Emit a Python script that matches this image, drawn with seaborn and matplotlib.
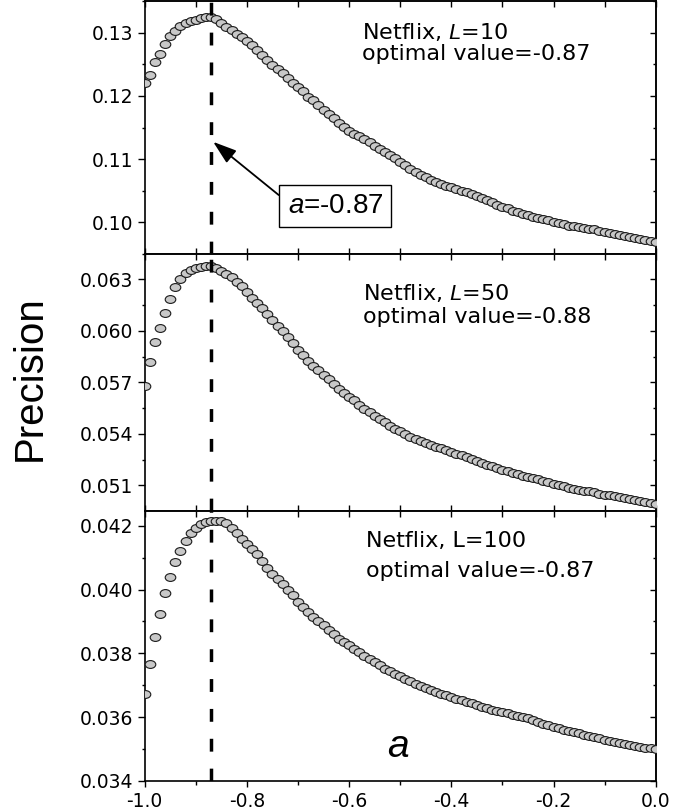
import numpy as np
import pandas as pd
import matplotlib
matplotlib.use('Agg')
import matplotlib.pyplot as plt
import seaborn as sns
from matplotlib.path import Path
from matplotlib.ticker import MultipleLocator, FormatStrFormatter, FixedLocator

# ---------------- data ----------------
a_values = np.round(np.arange(-100, 1) / 100.0, 2)

p_L10 = [0.1220, 0.1233, 0.1253, 0.1266, 0.1282, 0.1295, 0.1302, 0.1310, 0.1316, 0.1318,
         0.1320, 0.1323, 0.1325, 0.1325, 0.1322, 0.1315, 0.1309, 0.1304, 0.1298, 0.1293,
         0.1287, 0.1280, 0.1273, 0.1265, 0.1257, 0.1249, 0.1243, 0.1236, 0.1228, 0.1221,
         0.1214, 0.1207, 0.1199, 0.1193, 0.1186, 0.1178, 0.1171, 0.1165, 0.1157, 0.1151,
         0.1145, 0.1140, 0.1136, 0.1132, 0.1127, 0.1121, 0.1116, 0.1111, 0.1106, 0.1101,
         0.1096, 0.1090, 0.1085, 0.1080, 0.1075, 0.1071, 0.1067, 0.1064, 0.1061, 0.1058,
         0.1056, 0.1053, 0.1050, 0.1048, 0.1045, 0.1042, 0.1039, 0.1035, 0.1032, 0.1028,
         0.1025, 0.1022, 0.1018, 0.1016, 0.1013, 0.1011, 0.1009, 0.1007, 0.1005, 0.1003,
         0.1001, 0.0999, 0.0997, 0.0995, 0.0994, 0.0992, 0.0991, 0.0990, 0.0989, 0.0987,
         0.0985, 0.0983, 0.0981, 0.0980, 0.0978, 0.0977, 0.0976, 0.0974, 0.0972, 0.0971,
         0.0969]

p_L50 = [0.05680, 0.05817, 0.05933, 0.06018, 0.06105, 0.06185, 0.06257, 0.06300, 0.06335, 0.06354,
         0.06364, 0.06373, 0.06379, 0.06377, 0.06364, 0.06348, 0.06331, 0.06312, 0.06283, 0.06261,
         0.06228, 0.06193, 0.06164, 0.06135, 0.06100, 0.06064, 0.06030, 0.05998, 0.05964, 0.05930,
         0.05890, 0.05858, 0.05825, 0.05795, 0.05770, 0.05745, 0.05718, 0.05690, 0.05660, 0.05638,
         0.05616, 0.05594, 0.05570, 0.05547, 0.05525, 0.05505, 0.05485, 0.05466, 0.05447, 0.05430,
         0.05414, 0.05398, 0.05383, 0.05370, 0.05357, 0.05346, 0.05335, 0.05325, 0.05316, 0.05305,
         0.05294, 0.05284, 0.05274, 0.05262, 0.05251, 0.05241, 0.05231, 0.05221, 0.05211, 0.05201,
         0.05191, 0.05182, 0.05173, 0.05165, 0.05157, 0.05150, 0.05142, 0.05135, 0.05127, 0.05118,
         0.05110, 0.05102, 0.05094, 0.05087, 0.05081, 0.05075, 0.05069, 0.05064, 0.05058, 0.05052,
         0.05046, 0.05041, 0.05035, 0.05029, 0.05024, 0.05019, 0.05014, 0.05008, 0.05002, 0.04997,
         0.04990]

p_L100 = [0.03672, 0.03766, 0.03850, 0.03922, 0.03988, 0.04040, 0.04085, 0.04122, 0.04152, 0.04176,
          0.04192, 0.04204, 0.04213, 0.04216, 0.04216, 0.04215, 0.04207, 0.04194, 0.04176, 0.04158,
          0.04142, 0.04127, 0.04111, 0.04088, 0.04068, 0.04050, 0.04032, 0.04016, 0.04000, 0.03982,
          0.03962, 0.03945, 0.03929, 0.03915, 0.03900, 0.03888, 0.03874, 0.03860, 0.03846, 0.03836,
          0.03825, 0.03814, 0.03803, 0.03792, 0.03782, 0.03772, 0.03762, 0.03752, 0.03744, 0.03736,
          0.03728, 0.03720, 0.03712, 0.03705, 0.03698, 0.03691, 0.03684, 0.03678, 0.03673, 0.03668,
          0.03662, 0.03658, 0.03653, 0.03648, 0.03643, 0.03638, 0.03633, 0.03628, 0.03624, 0.03620,
          0.03616, 0.03612, 0.03608, 0.03604, 0.03600, 0.03596, 0.03591, 0.03586, 0.03580, 0.03575,
          0.03570, 0.03565, 0.03561, 0.03557, 0.03553, 0.03549, 0.03545, 0.03541, 0.03537, 0.03534,
          0.03530, 0.03526, 0.03522, 0.03519, 0.03516, 0.03513, 0.03510, 0.03507, 0.03504, 0.03502,
          0.03499]

optimal_a = -0.87
panel_titles = ["Netflix, $L$=10", "Netflix, $L$=50", "Netflix, L=100"]
panel_optimal = ["optimal value=-0.87", "optimal value=-0.88", "optimal value=-0.87"]
x_ticks = [-1.0, -0.8, -0.6, -0.4, -0.2, 0.0]

# ---------------- style ----------------
sns.set_theme(style='ticks')
plt.rcParams['font.family'] = ['DejaVu Sans']
plt.rcParams['text.color'] = 'black'
plt.rcParams['axes.labelcolor'] = 'black'
plt.rcParams['axes.unicode_minus'] = False
plt.rcParams['mathtext.fontset'] = 'custom'
plt.rcParams['mathtext.it'] = 'Liberation Sans:italic'
plt.rcParams['mathtext.rm'] = 'Liberation Sans'

# slightly flattened circle marker (as in the reference)
_circ = Path.unit_circle()
ellipse_marker = Path(_circ.vertices * np.array([1.0, 0.74]), _circ.codes)

fig = plt.figure(figsize=(6.75, 8.1), dpi=100)
W, H = 675.0, 810.0
left = 144.7 / W
width = 511.0 / W
ax1 = fig.add_axes([left, 1 - 254.0 / H, width, 253.0 / H])
ax2 = fig.add_axes([left, 1 - 510.7 / H, width, 256.7 / H])
ax3 = fig.add_axes([left, 1 - 781.0 / H, width, 270.3 / H])

series = [p_L10, p_L50, p_L100]
axes = [ax1, ax2, ax3]
ylims = [(0.0950, 0.1350), (0.04952, 0.06447), (0.0340, 0.04247)]
ymaj = [[0.10, 0.11, 0.12, 0.13], [0.051, 0.054, 0.057, 0.060, 0.063],
        [0.034, 0.036, 0.038, 0.040, 0.042]]
ymin_step = [0.005, 0.0015, 0.001]
yfmt = ['%.2f', '%.3f', '%.3f']

for i, (ax, vals) in enumerate(zip(axes, series)):
    df = pd.DataFrame({'a': a_values, 'precision': vals})
    sns.scatterplot(data=df, x='a', y='precision', ax=ax, s=58, marker=ellipse_marker,
                    color='#c8c8c8', edgecolor='#1a1a1a', linewidth=0.8, zorder=3,
                    legend=False)
    ax.axvline(optimal_a, color='black', lw=2.5, dashes=(3.7, 4.9), zorder=4)
    ax.set_xlim(-1.0, 0.0)
    ax.set_ylim(*ylims[i])
    ax.set_xlabel('')
    ax.set_ylabel('')
    ax.set_facecolor('white')
    for sp in ax.spines.values():
        sp.set_visible(True)
        sp.set_linewidth(1.2)
        sp.set_color('black')

    ax.yaxis.set_major_locator(FixedLocator(ymaj[i]))
    ax.yaxis.set_minor_locator(MultipleLocator(ymin_step[i]))
    ax.yaxis.set_major_formatter(FormatStrFormatter(yfmt[i]))
    ax.xaxis.set_major_locator(FixedLocator(x_ticks))
    ax.xaxis.set_minor_locator(MultipleLocator(0.1))
    ax.xaxis.set_major_formatter(FormatStrFormatter('%.1f'))

    ax.tick_params(axis='y', which='major', direction='out', length=5, width=1.0,
                   left=True, right=False, labelsize=13.5, pad=3.5, colors='black')
    ax.tick_params(axis='y', which='minor', direction='out', length=2.5, width=1.0,
                   left=True, right=False, colors='black')
    if i < 2:
        ax.tick_params(axis='x', which='both', direction='in', bottom=True, top=False,
                       labelbottom=False, length=4, width=1.0, colors='black')
    else:
        ax.tick_params(axis='x', which='major', direction='out', bottom=True, top=False,
                       labelbottom=True, length=4, width=1.0, labelsize=13.5, pad=4,
                       colors='black')
        ax.tick_params(axis='x', which='minor', direction='out', bottom=True, top=False,
                       length=3, width=1.0, colors='black')

    sec_y = ax.secondary_yaxis('right')
    sec_y.yaxis.set_major_locator(FixedLocator(ymaj[i]))
    sec_y.yaxis.set_minor_locator(MultipleLocator(ymin_step[i]))
    sec_y.tick_params(axis='y', which='major', direction='in', length=4, width=1.0,
                      labelright=False, colors='black')
    sec_y.tick_params(axis='y', which='minor', direction='in', length=2.5, width=1.0,
                      colors='black')
    sec_y.spines['right'].set_linewidth(1.2)

    sec_x = ax.secondary_xaxis('top')
    sec_x.xaxis.set_major_locator(FixedLocator(x_ticks))
    sec_x.xaxis.set_minor_locator(MultipleLocator(0.1))
    sec_x.tick_params(axis='x', which='both', direction='in', length=4, width=1.0,
                      labeltop=False, colors='black')
    sec_x.spines['top'].set_linewidth(1.2)

# panel texts
ax1.text(-0.575, 0.12896, panel_titles[0], fontsize=16, ha='left', va='baseline')
ax1.text(-0.575, 0.12564, panel_optimal[0], fontsize=16, ha='left', va='baseline')
ax2.text(-0.573, 0.06179, panel_titles[1], fontsize=16, ha='left', va='baseline')
ax2.text(-0.573, 0.06045, panel_optimal[1], fontsize=16, ha='left', va='baseline')
ax3.text(-0.567, 0.04133, panel_titles[2], fontsize=16, ha='left', va='baseline')
ax3.text(-0.567, 0.04039, panel_optimal[2], fontsize=16, ha='left', va='baseline')

# annotation box with arrow
ax1.annotate('$a$=-0.87', xy=(-0.866, 0.11273), xytext=(-0.627, 0.10257),
             ha='center', va='center', fontsize=20, family='Liberation Sans',
             bbox=dict(boxstyle='square,pad=0.3', fc='white', ec='black', lw=1.0),
             arrowprops=dict(arrowstyle='-|>,head_length=0.9,head_width=0.3',
                             color='black', lw=1.3, relpos=(0.0, 0.65),
                             mutation_scale=16, shrinkA=0, shrinkB=0),
             zorder=6)

# x-axis label inside bottom panel
ax3.text(-0.504, 0.03475, 'a', fontsize=28, style='italic', family='Liberation Sans',
         ha='center', va='baseline')

# y-axis label
fig.text(30 / W, 1 - 378 / H, 'Precision', rotation=90, ha='center', va='center',
         fontsize=29, family='Liberation Sans')

fig.savefig('out.png', dpi=100, facecolor='white')
